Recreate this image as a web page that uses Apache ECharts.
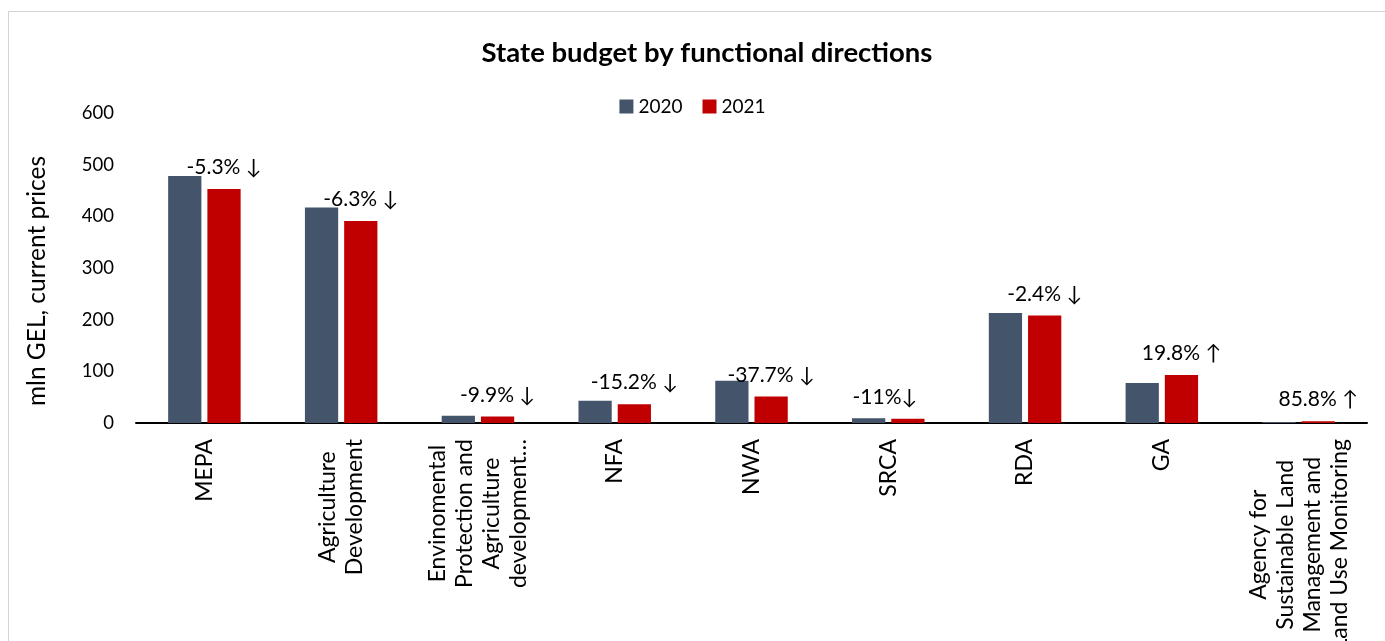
<!DOCTYPE html>
<html>
<head>
<meta charset="utf-8">
<script src="https://cdn.jsdelivr.net/npm/echarts@6/dist/echarts.min.js"></script>
<style>
  html, body { margin: 0; padding: 0; background: #fff; }
  #chart { width: 1385px; height: 641px; }
</style>
</head>
<body>
<div id="chart"></div>
<script>
// Budget by functional direction, mln GEL at current prices
const categories = [
  'MEPA',
  'Agriculture\nDevelopment',
  'Envinomental\nProtection and\nAgriculture\ndevelopment…',
  'NFA',
  'NWA',
  'SRCA',
  'RDA',
  'GA',
  'Agency for\nSustainable Land\nManagement and\nLand Use Monitoring'
];
const values2020 = [478, 417, 14.1, 43, 82, 9, 213, 77.4, 1.9];
const values2021 = [453, 391, 12.7, 36.5, 51.1, 8.0, 207.9, 92.7, 3.5];
const changeLabels = ['-5.3% ↓', '-6.3% ↓', '-9.9% ↓', '-15.2% ↓', '-37.7% ↓', '-11%↓', '-2.4% ↓', '19.8% ↑', '85.8% ↑'];
const yTicks = [0, 100, 200, 300, 400, 500, 600];

const FONT = 'Lato, "Open Sans", sans-serif';
const chart = echarts.init(document.getElementById('chart'));

chart.setOption({
  animation: false,
  backgroundColor: '#ffffff',
  textStyle: { fontFamily: FONT, color: '#000' },
  graphic: [{
    type: 'rect',
    shape: { x: 8.5, y: 11.5, width: 1400, height: 700 },
    style: { fill: null, stroke: '#d4d4d4', lineWidth: 1 },
    silent: true
  }],
  title: {
    text: 'State budget by functional directions',
    left: 702,
    textAlign: 'center',
    top: 34,
    textStyle: { fontFamily: FONT, fontSize: 27.5, fontWeight: 'bold', color: '#000' }
  },
  legend: {
    top: 92,
    left: 'center',
    itemWidth: 14,
    itemHeight: 14,
    itemGap: 20,
    icon: 'rect',
    textStyle: { fontFamily: FONT, fontSize: 19, color: '#000' },
    data: ['2020', '2021']
  },
  grid: { left: 136, right: 18, top: 113, bottom: 218, containLabel: false, outerBoundsMode: 'none' },
  xAxis: {
    type: 'category',
    data: categories,
    axisLine: { lineStyle: { color: '#000', width: 2 } },
    axisTick: { show: false },
    axisLabel: {
      interval: 0,
      rotate: 90,
      margin: 16,
      fontFamily: FONT,
      fontSize: 23,
      color: '#000',
      lineHeight: 27,
      formatter: v => v.split('\n').map(s => '{c|' + s + '}').join('\n'),
      rich: { c: { align: 'center', fontFamily: FONT, fontSize: 23, lineHeight: 27, color: '#000' } }
    }
  },
  yAxis: {
    type: 'value',
    min: yTicks[0],
    max: yTicks[yTicks.length - 1],
    interval: 100,
    name: 'mln GEL, current prices',
    nameLocation: 'middle',
    nameGap: 86,
    nameTextStyle: { fontFamily: FONT, fontSize: 24.5, color: '#000', padding: [0, 26, 0, 0] },
    axisLine: { show: false },
    axisTick: { show: false },
    splitLine: { show: false },
    axisLabel: { margin: 22, fontFamily: FONT, fontSize: 18.5, color: '#000' }
  },
  series: [
    {
      name: '2020',
      type: 'bar',
      data: values2020,
      barGap: '18%',
      barCategoryGap: '47%',
      itemStyle: { color: '#44546A' }
    },
    {
      name: '2021',
      type: 'bar',
      data: values2021.map((v, i) => ({
        value: v,
        label: { offset: i === 5 ? [-23, 0] : [0, 0] }
      })),
      itemStyle: { color: '#C00000' },
      label: {
        show: true,
        position: 'top',
        distance: 11,
        fontFamily: FONT,
        fontSize: 21,
        color: '#000',
        formatter: p => changeLabels[p.dataIndex]
      }
    }
  ]
});
</script>
</body>
</html>
